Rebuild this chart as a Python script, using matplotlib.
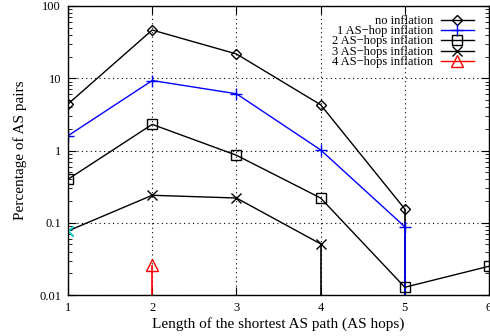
import matplotlib
matplotlib.use("Agg")
import matplotlib.pyplot as plt  # noqa: E402

plt.rcParams["font.family"] = ["Liberation Serif", "DejaVu Serif"]

# values (percent of AS pairs, log scale)
no_infl_x = [1, 2, 3, 4, 5]
no_infl = [4.4, 46.5, 21.7, 4.3, 0.155]
hop1_x = [1, 2, 3, 4, 5]
hop1 = [1.6, 9.3, 6.1, 1.02, 0.088]
hop2_x = [1, 2, 3, 4, 5, 6]
hop2 = [0.40, 2.3, 0.86, 0.22, 0.0128, 0.025]
hop3_x = [1, 2, 3, 4]
hop3 = [0.077, 0.24, 0.22, 0.051]
hop4_x = [2]
hop4 = [0.026]

labels = ["no inflation", "1 AS\u2212hop inflation", "2 AS\u2212hops inflation",
          "3 AS\u2212hops inflation", "4 AS\u2212hops inflation"]
# x positions where a series falls straight down to the axis floor
drops = [[5], [1, 5], [], [4], [2]]

YMIN, YMAX = 0.01, 100

series = [(no_infl_x, no_infl), (hop1_x, hop1), (hop2_x, hop2), (hop3_x, hop3), (hop4_x, hop4)]
styles = [
    dict(color="black", marker="D", ms=5, mfc="none"),
    dict(color="blue", marker="+", ms=9),
    dict(color="black", marker="s", ms=7, mfc="none"),
    dict(color="black", marker="x", ms=7),
    dict(color="red", marker="^", ms=9, mfc="none"),
]

fig = plt.figure(figsize=(4.9, 3.36), dpi=100)
ax = fig.add_axes([68 / 490, 1 - 295 / 336, 421 / 490, 289 / 336])
ax.set_yscale("log")

for (xs, ys), st, lab, dr in zip(series, styles, labels, drops):
    ax.plot(xs, ys, lw=1.0, mew=1.0, label=lab, **st)
    for xd in dr:
        yd = ys[xs.index(xd)]
        ax.vlines(xd, YMIN, yd, color=st["color"], lw=1.2)

# first point of the 3-hop series is marked in cyan in the original
ax.plot(hop3_x[:1], hop3[:1], ls="none", marker="x", ms=7, mew=1.0, color="cyan")

ax.set_xlim(1, 6)
ax.set_ylim(YMIN, YMAX)
ax.set_xticks([1, 2, 3, 4, 5, 6])
ax.set_yticks([0.01, 0.1, 1, 10, 100])
ax.set_yticklabels(["0.01", "0.1", "1", "10", "100"])
ax.tick_params(which="both", direction="in", top=True, right=True, labelsize=9, pad=5)
ax.tick_params(which="major", length=6)
ax.tick_params(which="minor", length=3)
ax.grid(True, which="major", color="black", lw=0.8, ls=(0, (1, 3)))
for s in ax.spines.values():
    s.set_linewidth(1.0)

ax.set_xlabel("Length of the shortest AS path (AS hops)", fontsize=11, labelpad=2)
ax.set_ylabel("Percentage of AS pairs", fontsize=11, labelpad=9)

ax.legend(loc="upper right", bbox_to_anchor=(0.98, 0.99), frameon=False, markerfirst=False,
          fontsize=9, handlelength=2.7, handleheight=0.5, labelspacing=-0.15,
          handletextpad=0.6, borderpad=0)

fig.savefig("out.png", dpi=100)
